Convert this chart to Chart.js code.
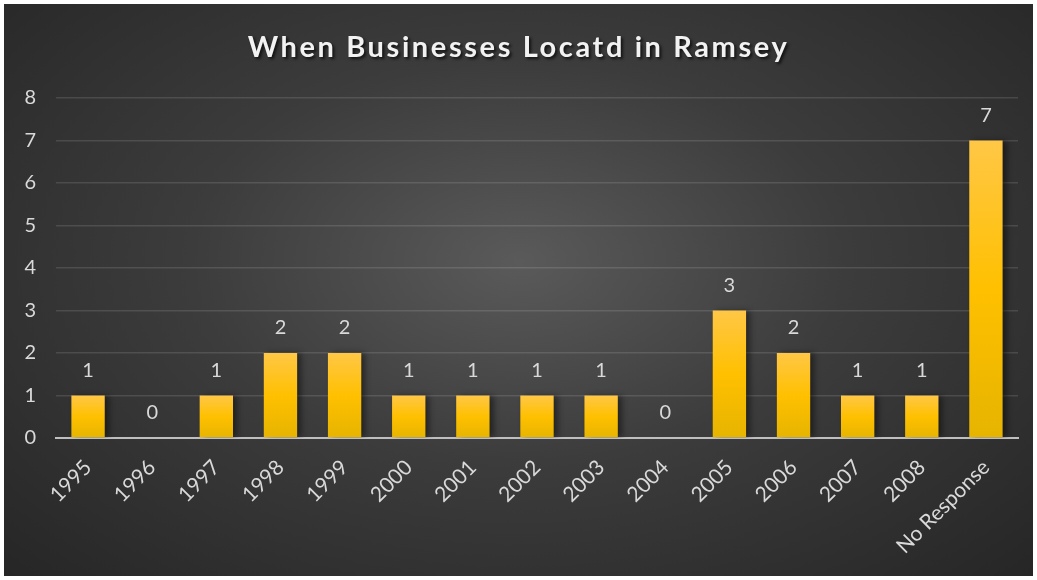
<!DOCTYPE html>
<html>
<head>
<meta charset="utf-8">
<script src="https://cdn.jsdelivr.net/npm/chart.js@4/dist/chart.umd.min.js"></script>
<style>
  html, body { margin: 0; padding: 0; background: #fff; }
  #wrap {
    position: absolute; left: 4px; top: 4px; width: 1029px; height: 572px;
    background: radial-gradient(ellipse farthest-corner at 50% 45%, #5a5a5a 0%, #3c3c3c 45%, #262626 100%);
  }
</style>
</head>
<body>
<div id="wrap"><canvas id="c" width="1029" height="572"></canvas></div>
<script>
const chartTitle = 'When Businesses Locatd in Ramsey';
const categories = ['1995', '1996', '1997', '1998', '1999', '2000', '2001', '2002', '2003', '2004', '2005', '2006', '2007', '2008', 'No Response'];
const counts = [1, 0, 1, 2, 2, 1, 1, 1, 1, 0, 3, 2, 1, 1, 7];
const yTicks = [0, 1, 2, 3, 4, 5, 6, 7, 8];

const FONT = 'Lato, "Open Sans", sans-serif';
const LABEL_COLOR = '#d9d9d9';

// gradient for each bar, from its own top to the baseline
function barFill(context) {
  const chart = context.chart;
  if (!chart.chartArea) return '#ffc000';
  const y = chart.scales.y;
  const top = y.getPixelForValue(context.raw);
  const bottom = y.getPixelForValue(0);
  if (bottom - top < 1) return '#ffc000';
  const g = chart.ctx.createLinearGradient(0, top, 0, bottom);
  g.addColorStop(0, '#ffc746');
  g.addColorStop(0.5, '#ffc000');
  g.addColorStop(1, '#e6b400');
  return g;
}

const titlePlugin = {
  id: 'titleText',
  afterDraw(chart) {
    const ctx = chart.ctx;
    ctx.save();
    ctx.font = 'bold 29px ' + FONT;
    if ('letterSpacing' in ctx) ctx.letterSpacing = '2.6px';
    ctx.textAlign = 'center';
    ctx.textBaseline = 'middle';
    ctx.shadowColor = 'rgba(0,0,0,0.7)';
    ctx.shadowOffsetX = 2;
    ctx.shadowOffsetY = 2;
    ctx.shadowBlur = 3;
    ctx.fillStyle = '#f2f2f2';
    ctx.fillText(chartTitle, chart.width / 2, 44);
    ctx.restore();
  }
};

const barShadow = {
  id: 'barShadow',
  beforeDatasetsDraw(chart) {
    const ctx = chart.ctx;
    ctx.save();
    ctx.shadowColor = 'rgba(0,0,0,0.45)';
    ctx.shadowOffsetX = 4;
    ctx.shadowOffsetY = 0;
    ctx.shadowBlur = 6;
  },
  afterDatasetsDraw(chart) {
    chart.ctx.restore();
  }
};

const valueLabels = {
  id: 'valueLabels',
  afterDatasetsDraw(chart) {
    const ctx = chart.ctx;
    const meta = chart.getDatasetMeta(0);
    ctx.save();
    ctx.font = '20px ' + FONT;
    ctx.fillStyle = LABEL_COLOR;
    ctx.textAlign = 'center';
    ctx.textBaseline = 'middle';
    meta.data.forEach((bar, i) => {
      ctx.fillText(String(counts[i]), bar.x, bar.y - 25);
    });
    ctx.restore();
  }
};

new Chart(document.getElementById('c'), {
  type: 'bar',
  data: {
    labels: categories,
    datasets: [{
      data: counts,
      backgroundColor: barFill,
      borderWidth: 0,
      categoryPercentage: 1,
      barPercentage: 0.52
    }]
  },
  options: {
    responsive: false,
    animation: false,
    layout: { padding: { top: 94, left: 0, right: 15, bottom: 0 } },
    plugins: {
      legend: { display: false },
      tooltip: { enabled: false },
      title: { display: false }
    },
    scales: {
      x: {
        afterFit(axis) { axis.height = 138; },
        grid: { display: false },
        border: { display: true, color: '#bfbfbf', width: 2 },
        ticks: {
          color: LABEL_COLOR,
          font: { family: FONT, size: 21 },
          minRotation: 45,
          maxRotation: 45,
          padding: 9
        }
      },
      y: {
        min: 0,
        max: 8,
        afterFit(axis) { axis.width = 52; },
        afterBuildTicks(axis) { axis.ticks = yTicks.map(v => ({ value: v })); },
        grid: { color: 'rgba(255,255,255,0.12)', lineWidth: 1.5, drawTicks: false },
        border: { display: false },
        ticks: {
          color: LABEL_COLOR,
          font: { family: FONT, size: 20 },
          padding: 20
        }
      }
    }
  },
  plugins: [titlePlugin, barShadow, valueLabels]
});
</script>
</body>
</html>
